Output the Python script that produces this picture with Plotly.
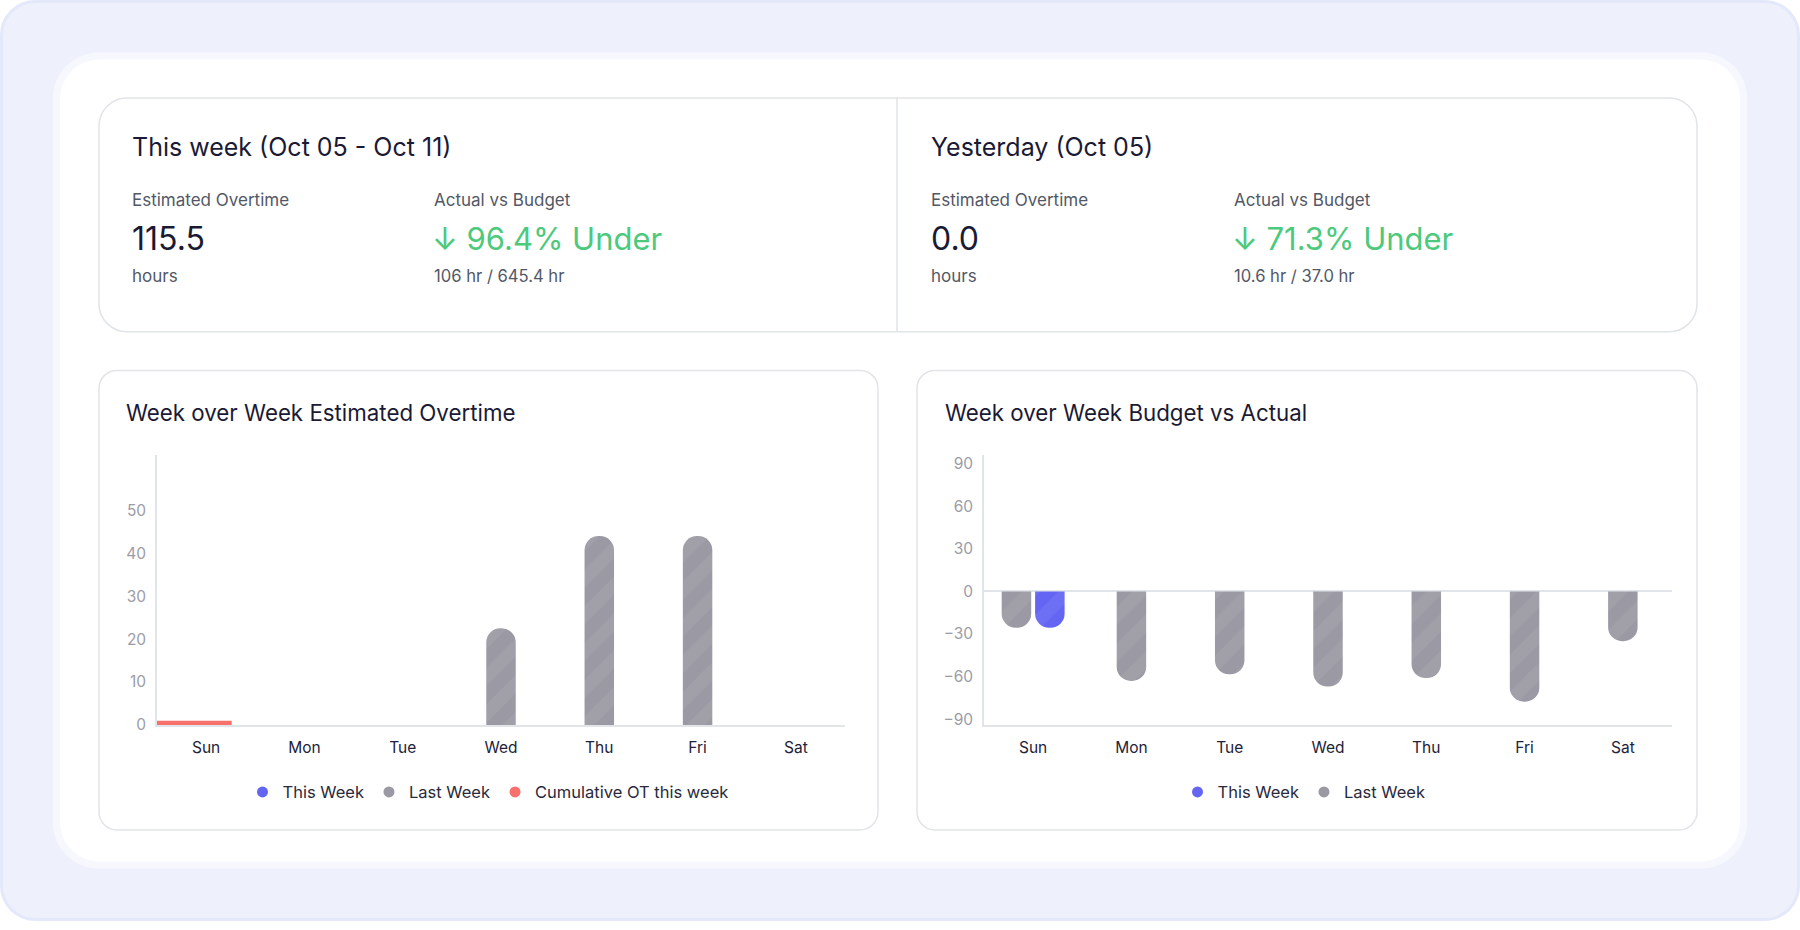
import plotly.graph_objects as go

# ---------------- data ----------------
days = ["Sun", "Mon", "Tue", "Wed", "Thu", "Fri", "Sat"]

ot_this_week = [None, None, None, None, None, None, None]
ot_last_week = [None, None, None, 22.5, 44, 44, None]
cum_ot_this_week = [1, None, None, None, None, None, None]
ot_ticks = [0, 10, 20, 30, 40, 50]

bva_this_week = [-25.6, None, None, None, None, None, None]
bva_last_week = [-25.6, -63, -58.4, -67, -61, -77.6, -35]
bva_ticks = [90, 60, 30, 0, -30, -60, -90]

week_title = "This week (Oct 05 - Oct 11)"
week_ot = "115.5"
week_pct = "↓ 96.4% Under"
week_ratio = "106 hr / 645.4 hr"
yday_title = "Yesterday (Oct 05)"
yday_ot = "0.0"
yday_pct = "↓ 71.3% Under"
yday_ratio = "10.6 hr / 37.0 hr"

# ---------------- style ----------------
W, H = 1800, 930
FONT = "Inter"
BLUE = "#6466F3"
GREY = "#9B9AA4"
RED = "#F7706B"
GREEN = "#4CC97C"
DARK = "#1B1A34"
MID = "#525866"
TICK = "#9C9CA6"
LINE = "#E1E4E8"
BW = 0.3
GAP = 0.04


def px(x, y):
    return x / W, 1 - y / H


def rrect(x0, y0, x1, y1, r):
    k = 0.5523 * r

    def p(x, y):
        X, Y = px(x, y)
        return f"{X:.6f},{Y:.6f}"
    d = "M " + p(x0 + r, y0)
    d += " L " + p(x1 - r, y0)
    d += " C " + p(x1 - r + k, y0) + " " + p(x1, y0 + r - k) + " " + p(x1, y0 + r)
    d += " L " + p(x1, y1 - r)
    d += " C " + p(x1, y1 - r + k) + " " + p(x1 - r + k, y1) + " " + p(x1 - r, y1)
    d += " L " + p(x0 + r, y1)
    d += " C " + p(x0 + r - k, y1) + " " + p(x0, y1 - r + k) + " " + p(x0, y1 - r)
    d += " L " + p(x0, y0 + r)
    d += " C " + p(x0, y0 + r - k) + " " + p(x0 + r - k, y0) + " " + p(x0 + r, y0)
    d += " Z"
    return d


def offsets(this_vals, idx_series):
    # idx_series: 0 = last week (left), 1 = this week (right)
    out = []
    for tv in this_vals:
        if tv is None:
            out.append(-BW / 2)
        else:
            out.append(-BW - GAP / 2 if idx_series == 0 else GAP / 2)
    return out


pattern = dict(shape="/", fgcolor="#ffffff", fgopacity=0.06, size=26, solidity=0.5)

fig = go.Figure()

# ---- left chart ----
fig.add_trace(go.Bar(x=days, y=ot_last_week, name="Last Week", width=BW,
                     offset=offsets(ot_this_week, 0),
                     marker=dict(color=GREY, cornerradius="50%", pattern=pattern, line=dict(width=0)),
                     showlegend=False, xaxis="x", yaxis="y"))
fig.add_trace(go.Bar(x=days, y=ot_this_week, name="This Week", width=BW,
                     offset=offsets(ot_this_week, 1),
                     marker=dict(color=BLUE, cornerradius="50%", pattern=pattern, line=dict(width=0)),
                     showlegend=False, xaxis="x", yaxis="y"))
fig.add_trace(go.Bar(x=days, y=cum_ot_this_week, name="Cumulative OT this week", width=0.76,
                     offset=-0.5, marker=dict(color=RED, line=dict(width=0)),
                     showlegend=False, xaxis="x", yaxis="y"))

# ---- right chart ----
fig.add_trace(go.Bar(x=days, y=bva_last_week, name="Last Week", width=BW,
                     offset=offsets(bva_this_week, 0),
                     marker=dict(color=GREY, cornerradius="50%", pattern=pattern, line=dict(width=0)),
                     showlegend=False, xaxis="x2", yaxis="y2"))
fig.add_trace(go.Bar(x=days, y=bva_this_week, name="This Week", width=BW,
                     offset=offsets(bva_this_week, 1),
                     marker=dict(color=BLUE, cornerradius="50%", pattern=pattern, line=dict(width=0)),
                     showlegend=False, xaxis="x2", yaxis="y2"))

# ---- legend-only entries ----
for nm, col in [("This Week", BLUE), ("Last Week", GREY), ("Cumulative OT this week", RED)]:
    fig.add_trace(go.Scatter(x=[None], y=[None], mode="markers", name=nm,
                             marker=dict(symbol="circle", size=11, color=col),
                             legend="legend", xaxis="x", yaxis="y"))
for nm, col in [("This Week", BLUE), ("Last Week", GREY)]:
    fig.add_trace(go.Scatter(x=[None], y=[None], mode="markers", name=nm,
                             marker=dict(symbol="circle", size=11, color=col),
                             legend="legend2", xaxis="x2", yaxis="y2"))

# ---------------- shapes ----------------
shapes = []
shapes.append(dict(type="path", xref="paper", yref="paper", layer="below",
                   path=rrect(1.5, 1.5, W - 1.5, H - 1.5, 34),
                   fillcolor="#EEF1FC", line=dict(color="#E3E8FB", width=3)))
shapes.append(dict(type="path", xref="paper", yref="paper", layer="below",
                   path=rrect(53, 53, 1747, 877, 46), fillcolor="#F6F8FE", line=dict(width=0)))
shapes.append(dict(type="path", xref="paper", yref="paper", layer="below",
                   path=rrect(60, 60, 1740, 870, 40), fillcolor="#FFFFFF", line=dict(width=0)))
shapes.append(dict(type="path", xref="paper", yref="paper", layer="below",
                   path=rrect(99, 99, 1697, 335, 28), fillcolor="#FFFFFF", line=dict(color=LINE, width=1.5)))
X0, Y0 = px(897, 99)
X1, Y1 = px(897, 335)
shapes.append(dict(type="line", xref="paper", yref="paper", layer="below",
                   x0=X0, x1=X1, y0=Y0, y1=Y1, line=dict(color=LINE, width=1.5)))
shapes.append(dict(type="path", xref="paper", yref="paper", layer="below",
                   path=rrect(99, 374, 878, 838, 18), fillcolor="#FFFFFF", line=dict(color=LINE, width=1.5)))
shapes.append(dict(type="path", xref="paper", yref="paper", layer="below",
                   path=rrect(917, 374, 1697, 838, 18), fillcolor="#FFFFFF", line=dict(color=LINE, width=1.5)))

# ---------------- texts ----------------
ann = []


def txt(x, y, s, size, color):
    X, Y = px(x, y)
    ann.append(dict(x=X, y=Y, xref="paper", yref="paper", text=s, showarrow=False,
                    xanchor="left", yanchor="middle", borderpad=0,
                    font=dict(family=FONT, size=size, color=color)))


txt(131, 148, week_title, 25, DARK)
txt(131, 202, "Estimated Overtime", 17, MID)
txt(131, 241, week_ot, 32, DARK)
txt(131, 279, "hours", 17, MID)
txt(433, 202, "Actual vs Budget", 17, MID)
txt(431, 241, week_pct, 31, GREEN)
txt(433, 279, week_ratio, 16.6, MID)

txt(930, 148, yday_title, 25, DARK)
txt(930, 202, "Estimated Overtime", 17, MID)
txt(930, 241, yday_ot, 32, DARK)
txt(930, 279, "hours", 17, MID)
txt(1233, 202, "Actual vs Budget", 17, MID)
txt(1231, 241, yday_pct, 31, GREEN)
txt(1233, 279, yday_ratio, 16.6, MID)

txt(125, 417, "Week over Week Estimated Overtime", 22.3, DARK)
txt(944, 417, "Week over Week Budget vs Actual", 22.3, DARK)

# ---------------- layout ----------------
axis_common = dict(showgrid=False, showline=True, linecolor=LINE, linewidth=1.5, ticks="",
                   fixedrange=True)

fig.update_layout(
    width=W, height=H, margin=dict(l=0, r=0, t=0, b=0),
    paper_bgcolor="#FFFFFF", plot_bgcolor="rgba(0,0,0,0)",
    font=dict(family=FONT),
    barmode="overlay",
    shapes=shapes, annotations=ann,
    xaxis=dict(domain=[157 / W, 845 / W], anchor="y", type="category", range=[-0.5, 6.5],
               tickfont=dict(size=15.5, color="#22223A"), ticklabelstandoff=8, zeroline=False,
               **axis_common),
    yaxis=dict(domain=[1 - 732 / H, 1 - 459 / H], anchor="x", range=[0, 63], tickvals=ot_ticks,
               tickfont=dict(size=15.5, color=TICK), ticklabelstandoff=6, zeroline=False,
               **axis_common),
    xaxis2=dict(domain=[984 / W, 1672 / W], anchor="y2", type="category", range=[-0.5, 6.5],
                tickfont=dict(size=15.5, color="#22223A"), ticklabelstandoff=8, zeroline=False,
                **axis_common),
    yaxis2=dict(domain=[1 - 732 / H, 1 - 459 / H], anchor="x2", range=[-94, 96.4], tickvals=bva_ticks,
                tickfont=dict(size=15.5, color=TICK), ticklabelstandoff=6,
                zeroline=True, zerolinecolor=LINE, zerolinewidth=1.5,
                **axis_common),
    legend=dict(orientation="h", x=488 / W, xanchor="center", y=1 - 800 / H, yanchor="middle",
                font=dict(size=16.5, color="#2A2A3C"), bgcolor="rgba(0,0,0,0)", itemclick=False,
                itemdoubleclick=False),
    legend2=dict(orientation="h", x=1304 / W, xanchor="center", y=1 - 800 / H, yanchor="middle",
                 font=dict(size=16.5, color="#2A2A3C"), bgcolor="rgba(0,0,0,0)", itemclick=False,
                 itemdoubleclick=False),
)

fig.write_html("out.html", config=dict(displayModeBar=False),
               post_script="document.body.style.margin='0';document.body.style.overflow='hidden';")
